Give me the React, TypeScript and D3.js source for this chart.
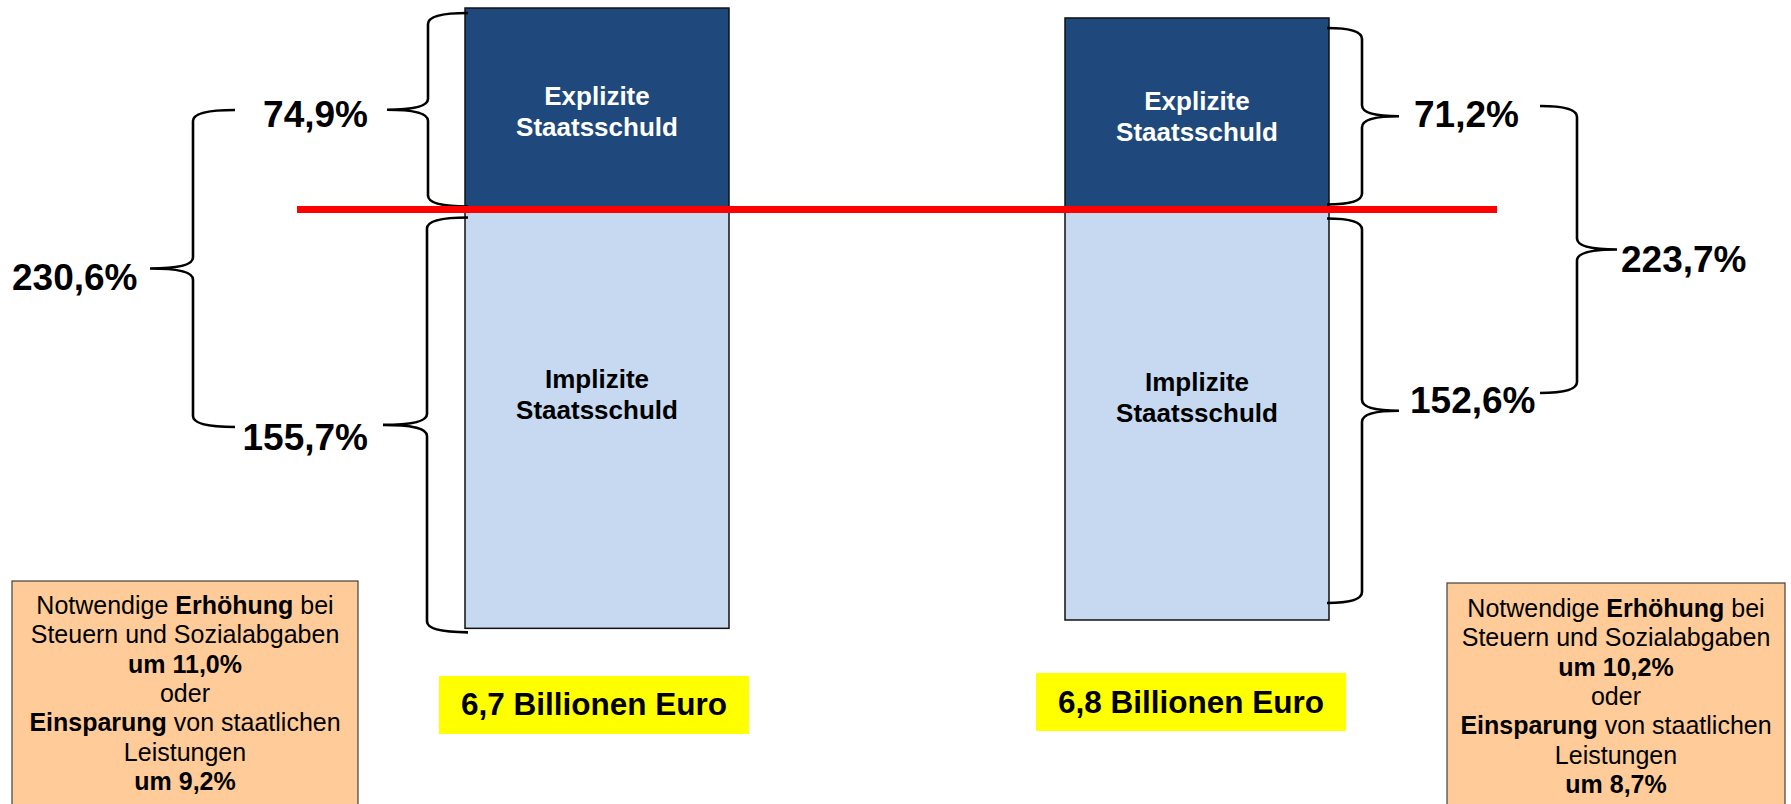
import React from "react";
import * as d3 from "d3";

// ---- data ----
const scenarios = ["Szenario 1", "Szenario 2"];
const explicitDebt = [74.9, 71.2];
const implicitDebt = [155.7, 152.6];
const totalDebt = [230.6, 223.7];
const totalEuroBillions = [6.7, 6.8];
const taxIncrease = [11.0, 10.2];
const spendingCut = [9.2, 8.7];
const explicitLabel = ["Explizite", "Staatsschuld"];
const implicitLabel = ["Implizite", "Staatsschuld"];

const W = 1791;
const H = 804;
const FONT = "'Liberation Sans', Arial, Helvetica, sans-serif";

const locale = d3.formatLocale({ decimal: ",", thousands: ".", grouping: [3], currency: ["", " €"] });
const f1 = locale.format(".1f");
const pct = (v: number) => `${f1(v)}%`;

// layout
const y0 = 209.5; // zero line (red line)
const k = 2.69; // px per percentage point
const yScale = d3.scaleLinear().domain([-100, 100]).range([y0 + 100 * k, y0 - 100 * k]);
const xScale = d3.scalePoint<string>().domain(scenarios).range([597, 1197]);
const barW = 264;

function brace(xTip: number, xSpine: number, xPoint: number, yTop: number, yBot: number, yMid: number, r = 11) {
  const p = d3.path();
  p.moveTo(xTip, yTop);
  p.quadraticCurveTo(xSpine, yTop, xSpine, yTop + r);
  p.lineTo(xSpine, yMid - r);
  p.quadraticCurveTo(xSpine, yMid, xPoint, yMid);
  p.quadraticCurveTo(xSpine, yMid, xSpine, yMid + r);
  p.lineTo(xSpine, yBot - r);
  p.quadraticCurveTo(xSpine, yBot, xTip, yBot);
  return p.toString();
}

export default function App() {
  const bars = scenarios.map((s, i) => {
    const cx = xScale(s) as number;
    return {
      i,
      cx,
      x0: cx - barW / 2,
      x1: cx + barW / 2,
      yExp: yScale(explicitDebt[i]),
      yImp: yScale(-implicitDebt[i]),
    };
  });

  const L = bars[0];
  const R = bars[1];

  // annotation geometry (layout only)
  const braces = [
    // left side
    { tip: L.x0 + 3, spine: L.x0 - 37, point: L.x0 - 78, top: L.yExp + 5, bot: y0 - 3 },
    { tip: L.x0 + 3, spine: L.x0 - 38, point: L.x0 - 82, top: y0 + 8, bot: L.yImp + 4 },
    { tip: 235, spine: 193, point: 150, top: 110, bot: 427 },
    // right side
    { tip: R.x1 - 2, spine: R.x1 + 33, point: R.x1 + 70, top: R.yExp + 10, bot: y0 - 5 },
    { tip: R.x1 - 2, spine: R.x1 + 33, point: R.x1 + 70, top: y0 + 9, bot: R.yImp - 17 },
    { tip: 1540, spine: 1577, point: 1617, top: 106, bot: 393 },
  ];

  const pctLabels = [
    { text: pct(explicitDebt[0]), x: 368, y: 127, anchor: "end" },
    { text: pct(implicitDebt[0]), x: 368, y: 450, anchor: "end" },
    { text: pct(totalDebt[0]), x: 12, y: 290, anchor: "start" },
    { text: pct(explicitDebt[1]), x: 1414, y: 127, anchor: "start" },
    { text: pct(implicitDebt[1]), x: 1410, y: 413, anchor: "start" },
    { text: pct(totalDebt[1]), x: 1621, y: 272, anchor: "start" },
  ];

  const infoBoxes = [
    { x: 12, w: 346, top: 581, base: 614 },
    { x: 1447, w: 338, top: 583, base: 617 },
  ];
  const lineH = 29.3;

  return (
    <svg
      width={W}
      height={H}
      viewBox={`0 0 ${W} ${H}`}
      style={{ position: "absolute", left: 0, top: 0, background: "#fff" }}
      fontFamily={FONT}
    >
      <rect x={0} y={0} width={W} height={H} fill="#fff" />

      {/* bars */}
      {bars.map((b) => (
        <g key={b.i}>
          <rect x={b.x0} y={b.yExp} width={barW} height={y0 - b.yExp} fill="#1F497D" stroke="#111" strokeWidth={1.5} />
          <rect x={b.x0} y={y0} width={barW} height={b.yImp - y0} fill="#C6D9F1" stroke="#111" strokeWidth={1.5} />
          <text textAnchor="middle" fill="#fff" fontWeight="bold" fontSize={26}>
            <tspan x={b.cx} y={(b.yExp + y0) / 2 - 4}>{explicitLabel[0]}</tspan>
            <tspan x={b.cx} y={(b.yExp + y0) / 2 + 27}>{explicitLabel[1]}</tspan>
          </text>
          <text textAnchor="middle" fill="#000" fontWeight="bold" fontSize={26}>
            <tspan x={b.cx} y={y0 + 178 + b.i * 3}>{implicitLabel[0]}</tspan>
            <tspan x={b.cx} y={y0 + 209 + b.i * 3}>{implicitLabel[1]}</tspan>
          </text>
        </g>
      ))}

      {/* braces */}
      {braces.map((br, j) => (
        <path
          key={j}
          d={brace(br.tip, br.spine, br.point, br.top, br.bot, (br.top + br.bot) / 2)}
          fill="none"
          stroke="#000"
          strokeWidth={2.6}
        />
      ))}

      {/* red zero line */}
      <line x1={297} x2={1497} y1={y0} y2={y0} stroke="#FF0000" strokeWidth={7} />

      {/* percentage labels */}
      {pctLabels.map((l, j) => (
        <text key={j} x={l.x} y={l.y} textAnchor={l.anchor as any} fontWeight="bold" fontSize={37} fill="#000">
          {l.text}
        </text>
      ))}

      {/* yellow totals */}
      {bars.map((b) => (
        <g key={"t" + b.i}>
          <rect x={b.cx - 158 - b.i * 3} y={676 - b.i * 3} width={310} height={58} fill="#FFFF00" />
          <text
            x={b.cx - 3 - b.i * 3}
            y={715 - b.i * 2}
            textAnchor="middle"
            fontWeight="bold"
            fontSize={31.5}
            fill="#000"
          >
            {`${f1(totalEuroBillions[b.i])} Billionen Euro`}
          </text>
        </g>
      ))}

      {/* info boxes */}
      {infoBoxes.map((bx, i) => {
        const cx = bx.x + bx.w / 2;
        const yy = (n: number) => bx.base + n * lineH;
        return (
          <g key={"b" + i}>
            <rect x={bx.x} y={bx.top} width={bx.w} height={H - bx.top + 20} fill="#FFCC99" stroke="#404040" strokeWidth={1.2} />
            <text textAnchor="middle" fontSize={25} fill="#000">
              <tspan x={cx} y={yy(0)}>
                Notwendige <tspan fontWeight="bold">Erhöhung</tspan> bei
              </tspan>
              <tspan x={cx} y={yy(1)}>Steuern und Sozialabgaben</tspan>
              <tspan x={cx} y={yy(2)} fontWeight="bold">{`um ${pct(taxIncrease[i])}`}</tspan>
              <tspan x={cx} y={yy(3)}>oder</tspan>
              <tspan x={cx} y={yy(4)}>
                <tspan fontWeight="bold">Einsparung</tspan> von staatlichen
              </tspan>
              <tspan x={cx} y={yy(5)}>Leistungen</tspan>
              <tspan x={cx} y={yy(6)} fontWeight="bold">{`um ${pct(spendingCut[i])}`}</tspan>
            </text>
          </g>
        );
      })}
    </svg>
  );
}
